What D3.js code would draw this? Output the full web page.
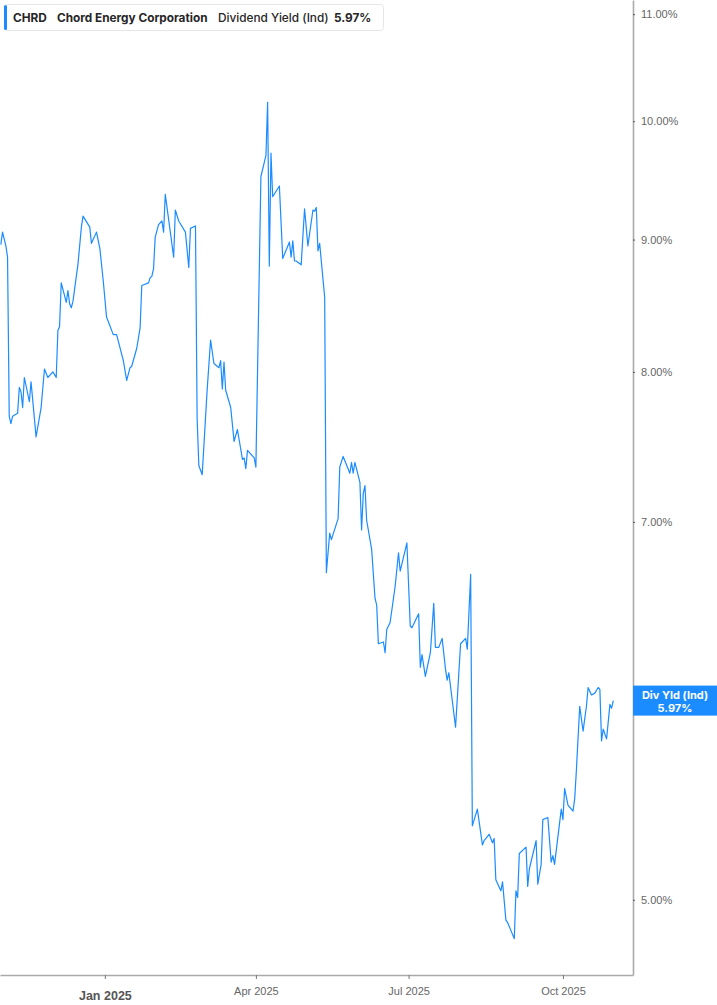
<!DOCTYPE html>
<html>
<head>
<meta charset="utf-8">
<script src="https://cdn.jsdelivr.net/npm/d3@7"></script>
<style>
  body { margin: 0; background: #fff; }
  svg { display: block; font-family: Inter, "Noto Sans", sans-serif; }
</style>
</head>
<body>
<svg id="chart"></svg>
<script>
// dividend yield (ind), CHRD, one year of closes
var dates = [
  "2024-10-31", "2024-11-01", "2024-11-03", "2024-11-04", "2024-11-05", "2024-11-06",
  "2024-11-07", "2024-11-10", "2024-11-11", "2024-11-12", "2024-11-13", "2024-11-14",
  "2024-11-17", "2024-11-18", "2024-11-21", "2024-11-24", "2024-11-26", "2024-11-28",
  "2024-12-01", "2024-12-03", "2024-12-04", "2024-12-05", "2024-12-06", "2024-12-09",
  "2024-12-10", "2024-12-11", "2024-12-12", "2024-12-13", "2024-12-16", "2024-12-18",
  "2024-12-19", "2024-12-23", "2024-12-24", "2024-12-27", "2024-12-29", "2024-12-31",
  "2025-01-02", "2025-01-06", "2025-01-08", "2025-01-12", "2025-01-14", "2025-01-16",
  "2025-01-17", "2025-01-20", "2025-01-22", "2025-01-23", "2025-01-27", "2025-01-28",
  "2025-01-29", "2025-01-30", "2025-01-31", "2025-02-02", "2025-02-04", "2025-02-05",
  "2025-02-06", "2025-02-11", "2025-02-12", "2025-02-14", "2025-02-18", "2025-02-20",
  "2025-02-21", "2025-02-24", "2025-02-25", "2025-02-26", "2025-02-28", "2025-03-03",
  "2025-03-05", "2025-03-07", "2025-03-10", "2025-03-11", "2025-03-12", "2025-03-13",
  "2025-03-14", "2025-03-17", "2025-03-19", "2025-03-21", "2025-03-24", "2025-03-25",
  "2025-03-26", "2025-03-27", "2025-03-31", "2025-04-01", "2025-04-04", "2025-04-07",
  "2025-04-08", "2025-04-09", "2025-04-10", "2025-04-11", "2025-04-15", "2025-04-17",
  "2025-04-21", "2025-04-22", "2025-04-23", "2025-04-24", "2025-04-25", "2025-04-28",
  "2025-04-30", "2025-05-02", "2025-05-05", "2025-05-06", "2025-05-07", "2025-05-08",
  "2025-05-09", "2025-05-12", "2025-05-13", "2025-05-15", "2025-05-16", "2025-05-20",
  "2025-05-21", "2025-05-23", "2025-05-27", "2025-05-28", "2025-05-29", "2025-05-30",
  "2025-06-02", "2025-06-03", "2025-06-04", "2025-06-05", "2025-06-06", "2025-06-09",
  "2025-06-11", "2025-06-12", "2025-06-13", "2025-06-16", "2025-06-17", "2025-06-18",
  "2025-06-20", "2025-06-23", "2025-06-25", "2025-06-26", "2025-06-30", "2025-07-02",
  "2025-07-03", "2025-07-07", "2025-07-08", "2025-07-09", "2025-07-11", "2025-07-14",
  "2025-07-16", "2025-07-17", "2025-07-19", "2025-07-21", "2025-07-23", "2025-07-24",
  "2025-07-25", "2025-07-29", "2025-08-01", "2025-08-04", "2025-08-05", "2025-08-07",
  "2025-08-08", "2025-08-11", "2025-08-14", "2025-08-15", "2025-08-18", "2025-08-20",
  "2025-08-21", "2025-08-22", "2025-08-25", "2025-08-26", "2025-08-28", "2025-08-29",
  "2025-09-02", "2025-09-03", "2025-09-04", "2025-09-05", "2025-09-09", "2025-09-10",
  "2025-09-11", "2025-09-15", "2025-09-16", "2025-09-18", "2025-09-19", "2025-09-22",
  "2025-09-24", "2025-09-25", "2025-09-26", "2025-09-30", "2025-10-01", "2025-10-02",
  "2025-10-04", "2025-10-07", "2025-10-08", "2025-10-09", "2025-10-11", "2025-10-13",
  "2025-10-15", "2025-10-16", "2025-10-18", "2025-10-20", "2025-10-22", "2025-10-23",
  "2025-10-24", "2025-10-25", "2025-10-27", "2025-10-29", "2025-10-30", "2025-10-31"
];
var divYield = [
  8.96, 9.06, 8.95, 8.86, 7.69, 7.64,
  7.69, 7.71, 7.89, 7.86, 7.75, 7.96,
  7.79, 7.93, 7.55, 7.75, 8.02, 7.96,
  8.00, 7.96, 8.30, 8.33, 8.66, 8.51,
  8.60, 8.50, 8.47, 8.52, 8.81, 9.10,
  9.19, 9.10, 8.97, 9.06, 8.93, 8.68,
  8.40, 8.27, 8.27, 8.08, 7.94, 8.03,
  8.04, 8.17, 8.32, 8.64, 8.66, 8.70,
  8.71, 8.77, 9.02, 9.12, 9.15, 9.06,
  9.37, 8.86, 9.24, 9.15, 9.06, 8.78,
  9.09, 9.11, 7.67, 7.36, 7.30, 7.88,
  8.23, 8.06, 8.03, 8.08, 7.88, 8.07,
  7.87, 7.75, 7.52, 7.60, 7.40, 7.41,
  7.34, 7.46, 7.41, 7.35, 9.52, 9.70,
  10.17, 8.79, 9.72, 9.35, 9.44, 8.85,
  8.98, 8.86, 8.99, 8.83, 8.83, 8.80,
  9.25, 8.95, 9.24, 9.23, 9.26, 8.91,
  8.97, 8.55, 6.69, 6.93, 6.89, 7.02,
  7.35, 7.42, 7.31, 7.38, 7.31, 7.38,
  7.25, 6.95, 7.18, 7.23, 7.01, 6.83,
  6.54, 6.50, 6.28, 6.29, 6.23, 6.36,
  6.40, 6.61, 6.81, 6.70, 6.87, 6.38,
  6.37, 6.45, 6.15, 6.22, 6.10, 6.23,
  6.51, 6.26, 6.26, 6.31, 6.14, 6.08,
  6.12, 5.83, 6.28, 6.31, 6.25, 6.68,
  5.34, 5.42, 5.25, 5.27, 5.30, 5.26,
  5.28, 5.09, 5.04, 5.08, 4.91, 4.90,
  4.83, 5.04, 5.01, 5.21, 5.24, 5.06,
  5.14, 5.27, 5.07, 5.16, 5.37, 5.38,
  5.17, 5.20, 5.16, 5.42, 5.37, 5.52,
  5.44, 5.41, 5.47, 5.61, 5.94, 5.81,
  5.94, 6.04, 6.00, 6.01, 6.04, 6.03,
  5.76, 5.82, 5.77, 5.95, 5.93, 5.97
];
var xTicks = ["2025-01-01", "2025-04-01", "2025-07-01", "2025-10-01"];
var xTickLabels = ["Jan 2025", "Apr 2025", "Jul 2025", "Oct 2025"];
var yTicks = [5, 6, 7, 8, 9, 10, 11];
var xDomain = ["2024-10-30T12:00:00Z", "2025-11-11T18:00:00Z"];
var yDomain = [4.676, 11.14];
var ticker = "CHRD";
var company = "Chord Energy Corporation";
var metric = "Dividend Yield (Ind)";
var shortMetric = "Div Yld (Ind)";

var blue = "#1a8cff";
var outerWidth = 717;
var outerHeight = 1005;
var margin = { top: 0, left: 0, right: 84, bottom: 30 };
var width = outerWidth - margin.left - margin.right;
var height = outerHeight - margin.top - margin.bottom;

var data = dates.map((d, i) => ({ date: new Date(d + "T00:00:00Z"), value: divYield[i] }));
var last = data[data.length - 1];

var svg = d3.select("#chart").attr("width", outerWidth).attr("height", outerHeight);

var x = d3.scaleUtc()
  .domain(xDomain.map((d) => new Date(d)))
  .range([0, width]);
var y = d3.scaleLog()
  .domain(yDomain)
  .range([height, 0]);

svg.append("defs").append("clipPath").attr("id", "plotclip")
  .append("rect").attr("width", width).attr("height", height);

var cg = svg.append("g")
  .attr("transform", "translate(" + margin.left + "," + margin.top + ")");

// line
var line = d3.line()
  .x((d) => x(d.date))
  .y((d) => y(d.value));

cg.append("path")
  .datum(data)
  .attr("clip-path", "url(#plotclip)")
  .attr("d", line)
  .attr("fill", "none")
  .attr("stroke", blue)
  .attr("stroke-width", 1.2)
  .attr("stroke-linejoin", "round");

// x axis
var xAxis = d3.axisBottom(x)
  .tickValues(xTicks.map((d) => new Date(d + "T00:00:00Z")))
  .tickSize(4)
  .tickSizeOuter(0)
  .tickPadding(8)
  .tickFormat((d, i) => xTickLabels[i]);
var gx = cg.append("g").attr("transform", "translate(0," + height + ")").call(xAxis);
gx.select(".domain").attr("stroke", "#aaa").attr("stroke-width", 1.6);
gx.selectAll(".tick line").attr("stroke", "#777");
gx.selectAll(".tick text")
  .attr("fill", "#666")
  .style("font-size", "11px")
  .style("font-weight", 500);
gx.selectAll(".tick text")
  .filter((d, i) => i == 0)
  .attr("fill", "#555")
  .attr("dy", "1.0em")
  .style("font-size", "12.5px")
  .style("font-weight", 700);

// y axis on the right
var yAxis = d3.axisRight(y)
  .tickValues(yTicks)
  .tickSize(2)
  .tickSizeOuter(0)
  .tickPadding(6)
  .tickFormat((d) => d.toFixed(2) + "%");
var gy = cg.append("g").attr("transform", "translate(" + width + ",0)").call(yAxis);
gy.select(".domain").attr("stroke", "#aaa").attr("stroke-width", 1.6);
gy.selectAll(".tick line").attr("stroke", "#555");
gy.selectAll(".tick text")
  .attr("fill", "#666")
  .style("font-size", "11px")
  .style("font-weight", 500);
// the current value tag covers the label nearest to it
gy.selectAll(".tick text")
  .filter((d) => Math.abs(y(d) - y(last.value)) < 15)
  .remove();

// current value tag
var tag = cg.append("g").attr("transform", "translate(" + width + "," + y(last.value) + ")");
tag.append("rect")
  .attr("x", 0)
  .attr("y", -15)
  .attr("width", outerWidth - width)
  .attr("height", 30)
  .attr("fill", blue);
tag.append("text")
  .attr("x", (outerWidth - width) / 2)
  .attr("y", -2)
  .attr("text-anchor", "middle")
  .attr("fill", "#fff")
  .style("font-size", "11px")
  .style("font-weight", 700)
  .text(shortMetric);
tag.append("text")
  .attr("x", (outerWidth - width) / 2)
  .attr("y", 11)
  .attr("text-anchor", "middle")
  .attr("fill", "#fff")
  .style("font-size", "11px")
  .style("font-weight", 700)
  .text(last.value.toFixed(2) + "%");

// legend box
var legend = svg.append("g").attr("class", "legend");
legend.append("rect")
  .attr("x", 4.5)
  .attr("y", 4.5)
  .attr("width", 379)
  .attr("height", 26)
  .attr("rx", 3)
  .attr("fill", "#fff")
  .attr("stroke", "#e6e6e6");
legend.append("rect")
  .attr("x", 4)
  .attr("y", 5)
  .attr("width", 3)
  .attr("height", 25)
  .attr("rx", 1.5)
  .attr("fill", blue);
var legendItems = [
  { text: ticker, x: 13, weight: 700 },
  { text: company, x: 57, weight: 700 },
  { text: metric, x: 218, weight: 500 },
  { text: last.value.toFixed(2) + "%", x: 334, weight: 700 }
];
legend.selectAll("text.item")
  .data(legendItems)
  .enter()
  .append("text")
  .attr("class", "item")
  .attr("x", (d) => d.x)
  .attr("y", 21.5)
  .attr("fill", "#262626")
  .style("font-size", "11.8px")
  .style("font-weight", (d) => d.weight)
  .text((d) => d.text);
</script>
</body>
</html>
